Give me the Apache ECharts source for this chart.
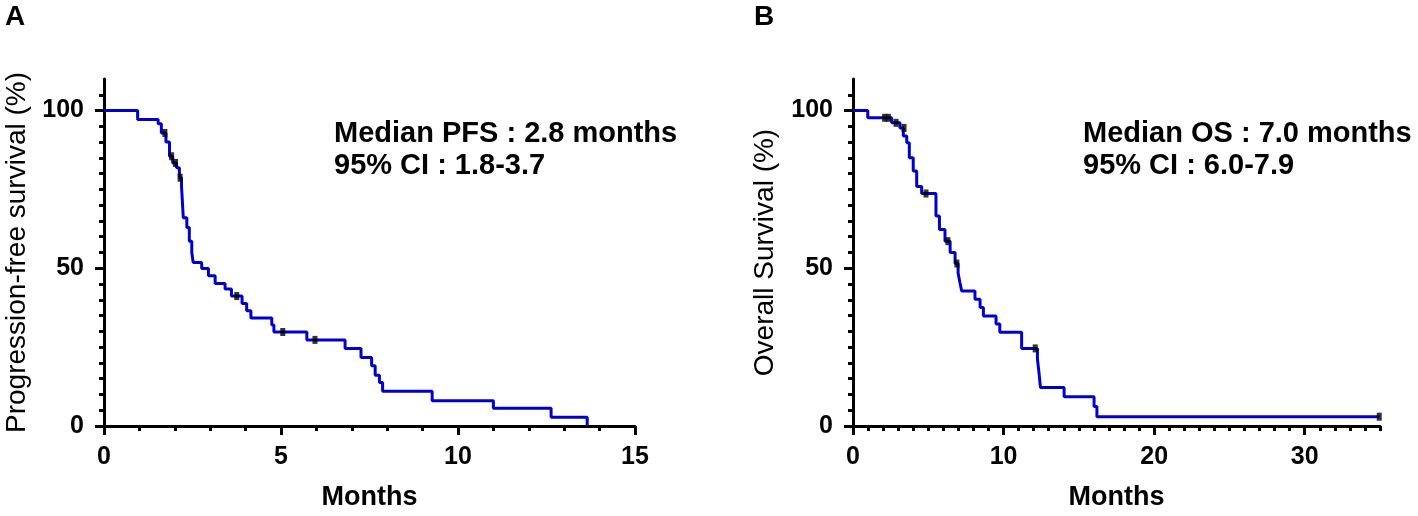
<!DOCTYPE html>
<html><head><meta charset="utf-8">
<script src="https://cdn.jsdelivr.net/npm/echarts@6/dist/echarts.min.js"></script>
<style>html,body{margin:0;padding:0;background:#fff}#c{width:1418px;height:516px}</style>
</head><body><div id="c"></div>
<script>
// Panel A: progression-free survival (time in months, survival %)
const pfsCurve = [[0,100],[0.95,97.2],[1.53,95.8],[1.62,92.9],[1.75,90.0],[1.85,85.5],[1.94,83.4],[2.05,81.9],[2.13,78.7],[2.19,76.0],[2.24,66.0],[2.34,62.9],[2.41,58.6],[2.48,55.0],[2.52,51.8],[2.76,49.9],[2.95,47.6],[3.14,45.2],[3.42,43.4],[3.6,41.2],[3.9,38.8],[4.03,36.5],[4.15,34.2],[4.74,32.0],[4.8,29.8],[5.73,27.3],[6.81,24.6],[7.26,21.7],[7.56,19.1],[7.66,16.1],[7.78,13.8],[7.87,11.0],[9.27,8.0],[11.0,5.6],[12.63,2.75],[13.65,0]];
const pfsCensored = [[1.72,92.9],[1.91,85.5],[2.02,83.4],[2.15,78.7],[3.75,41.2],[5.05,29.8],[5.96,27.3]];
// Panel B: overall survival
const osCurve = [[0,100],[0.98,97.7],[2.57,96.1],[3.12,94.5],[3.34,91.9],[3.57,89.8],[3.74,85.0],[4.0,80.8],[4.23,75.9],[4.56,73.7],[5.51,66.6],[5.74,62.3],[6.11,58.6],[6.45,55.0],[6.78,51.5],[6.98,48.5],[7.1,45.5],[7.22,42.8],[8.1,40.2],[8.44,37.6],[8.66,34.9],[9.5,32.3],[9.75,29.7],[11.2,24.6],[12.25,21.2],[12.35,17.0],[12.45,12.2],[14.02,9.3],[16.01,6.2],[16.2,2.95],[34.95,2.95]];
const osCensored = [[2.1,97.7],[2.35,97.7],[2.86,96.1],[3.39,94.5],[4.85,73.7],[6.3,58.6],[6.9,51.5],[12.1,24.6],[34.95,2.95]];

const yMajorTicks = [0,50,100];
const yMinorTicks = [5,10,15,20,25,30,35,40,45,55,60,65,70,75,80,85,90,95,105];
const xMajorA = [0,5,10,15];
const xMinorA = [1,2,3,4,6,7,8,9,11,12,13,14];
const xMajorB = [0,10,20,30];
const xMinorB = [1,2,3,4,5,6,7,8,9,11,12,13,14,15,16,17,18,19,21,22,23,24,25,26,27,28,29,31,32,33,34,35];

const FONT = 'Liberation Sans, Arial, sans-serif';
const LINE = '#0000cc';

function majorX(grid, max, ticks, name){
  return {type:'value', gridIndex:grid, min:0, max:max, position:'bottom',
    axisLine:{show:true, onZero:false, lineStyle:{color:'#000', width:3}},
    axisTick:{show:true, customValues:ticks, length:9, lineStyle:{color:'#000', width:3}},
    axisLabel:{show:true, customValues:ticks, margin:19, color:'#000', fontFamily:FONT, fontWeight:'bold', fontSize:25},
    splitLine:{show:false},
    name:name, nameLocation:'middle', nameGap:58,
    nameTextStyle:{color:'#000', fontFamily:FONT, fontWeight:'bold', fontSize:27}};
}
function minorX(grid, max, ticks){
  return {type:'value', gridIndex:grid, min:0, max:max, position:'bottom',
    axisLine:{show:false, onZero:false},
    axisTick:{show:true, customValues:ticks, length:5, lineStyle:{color:'#000', width:3}},
    axisLabel:{show:false}, splitLine:{show:false}};
}
function majorY(grid, name, gap){
  return {type:'value', gridIndex:grid, min:0, max:110, position:'left',
    axisLine:{show:true, onZero:false, lineStyle:{color:'#000', width:3}},
    axisTick:{show:true, customValues:yMajorTicks, length:9, lineStyle:{color:'#000', width:3}},
    axisLabel:{show:true, customValues:yMajorTicks, margin:20, color:'#000', fontFamily:FONT, fontWeight:'bold', fontSize:25},
    splitLine:{show:false},
    name:name, nameLocation:'middle', nameGap:gap,
    nameTextStyle:{color:'#000', fontFamily:FONT, fontSize:28}};
}
function minorY(grid){
  return {type:'value', gridIndex:grid, min:0, max:110, position:'left',
    axisLine:{show:false, onZero:false},
    axisTick:{show:true, customValues:yMinorTicks, length:5, lineStyle:{color:'#000', width:3}},
    axisLabel:{show:false}, splitLine:{show:false}};
}

const chart = echarts.init(document.getElementById('c'), null, {renderer:'canvas'});
chart.setOption({
  animation:false,
  backgroundColor:'#fff',
  grid:[
    {left:104, top:79, width:531, height:348},
    {left:853, top:79, width:527, height:348}
  ],
  xAxis:[majorX(0,15,xMajorA,'Months'), minorX(0,15,xMinorA), majorX(1,35,xMajorB,'Months'), minorX(1,35,xMinorB)],
  yAxis:[majorY(0,'Progression-free survival (%)',73), minorY(0), majorY(1,'Overall Survival (%)',74), minorY(1)],
  series:[
    {type:'line', xAxisIndex:0, yAxisIndex:0, step:'end', data:pfsCurve, showSymbol:false, lineStyle:{color:LINE, width:3}, z:3},
    {type:'scatter', xAxisIndex:0, yAxisIndex:0, data:pfsCensored, symbol:'rect', symbolSize:[5,8], itemStyle:{color:'#000'}, z:4},
    {type:'line', xAxisIndex:2, yAxisIndex:2, step:'end', data:osCurve, showSymbol:false, lineStyle:{color:LINE, width:3}, z:3},
    {type:'scatter', xAxisIndex:2, yAxisIndex:2, data:osCensored, symbol:'rect', symbolSize:[5,8], itemStyle:{color:'#000'}, z:4}
  ],
  graphic:[
    {type:'text', left:5, top:3, style:{text:'A', fontFamily:FONT, fontWeight:'bold', fontSize:28, fill:'#000'}},
    {type:'text', left:754, top:3, style:{text:'B', fontFamily:FONT, fontWeight:'bold', fontSize:28, fill:'#000'}},
    {type:'text', left:334, top:119, style:{text:'Median PFS : 2.8 months', fontFamily:FONT, fontWeight:'bold', fontSize:29, fill:'#000'}},
    {type:'text', left:334, top:151, style:{text:'95% CI : 1.8-3.7', fontFamily:FONT, fontWeight:'bold', fontSize:29, fill:'#000'}},
    {type:'text', left:1083, top:119, style:{text:'Median OS : 7.0 months', fontFamily:FONT, fontWeight:'bold', fontSize:29, fill:'#000'}},
    {type:'text', left:1083, top:151, style:{text:'95% CI : 6.0-7.9', fontFamily:FONT, fontWeight:'bold', fontSize:29, fill:'#000'}}
  ]
});
</script></body></html>
